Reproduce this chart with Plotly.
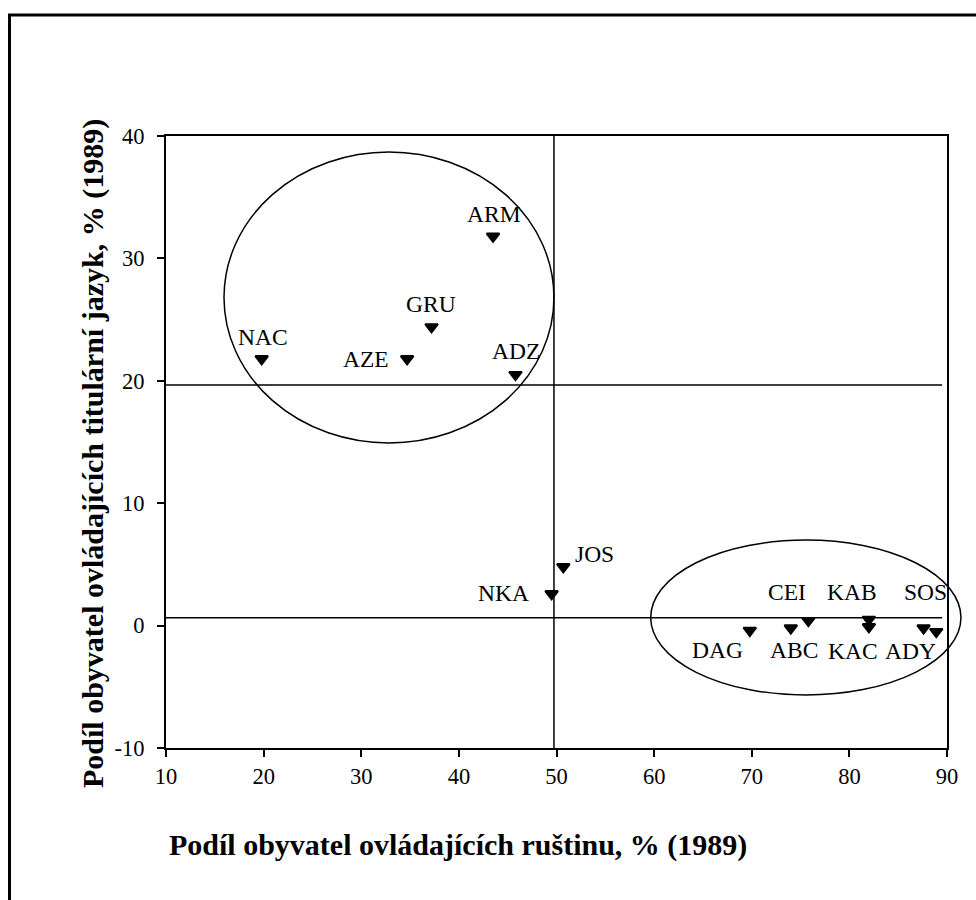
import plotly.graph_objects as go

# ---------------- data ----------------
codes = ["NAC", "AZE", "GRU", "ARM", "ADZ", "NKA", "JOS",
         "DAG", "ABC", "CEI", "KAB", "KAC", "SOS", "ADY"]
russian_pct = [19.8, 34.7, 37.2, 43.5, 45.8, 49.5, 50.7,
               69.8, 74.0, 75.8, 82.0, 82.0, 87.6, 88.9]
titular_pct = [21.8, 21.8, 24.4, 31.8, 20.5, 2.6, 4.8,
               -0.4, -0.2, 0.4, 0.5, -0.1, -0.2, -0.5]

x_ticks = [10, 20, 30, 40, 50, 60, 70, 80, 90]
x_tick_labels = ["10", "20", "30", "40", "50", "60", "70", "80", "90"]
y_ticks = [-10, 0, 10, 20, 30, 40]
y_tick_labels = ["-10", "0", "10", "20", "30", "40"]

x_title = "Podíl obyvatel ovládajících ruštinu, % (1989)"
y_title = "Podíl obyvatel ovládajících titulární jazyk, % (1989)"

# dividing lines (data units)
split_x = 49.74
upper_y = 19.66
lower_y = 0.65
line_end_x = 89.5

# cluster ellipses: (x0, x1, y0, y1) in data units
clusters_x0 = [15.94, 59.65]
clusters_x1 = [49.74, 91.43]
clusters_y0 = [14.92, -5.67]
clusters_y1 = [38.69, 6.99]

# ---------------- layout / style ----------------
x_range = [10, 90]
y_range = [-10, 40]
W, H = 976, 900
ML, MR, MT, MB = 166, 29, 136, 152
PW, PH = W - ML - MR, H - MT - MB

FONT = "Liberation Serif"

# label offsets in pixels (xshift, yshift)
label_offsets = {
    "NAC": (1, 22), "AZE": (-41, 0), "GRU": (-1, 23), "ARM": (1, 22),
    "ADZ": (0, 24), "NKA": (-48, 1), "JOS": (31, 13), "DAG": (-32, -19),
    "ABC": (3, -22), "CEI": (-21, 29), "KAB": (-17, 27), "KAC": (-16, -24),
    "SOS": (2, 36), "ADY": (-26, -19),
}


def xd(v):
    return (v - x_range[0]) / (x_range[1] - x_range[0])


def yd(v):
    return (v - y_range[0]) / (y_range[1] - y_range[0])


def px_x(p):
    return (p - ML) / PW


def px_y(p):
    return (H - MB - p) / PH


fig = go.Figure()
fig.add_trace(go.Scatter(
    x=russian_pct, y=titular_pct, mode="markers",
    marker=dict(symbol="triangle-down", size=11, color="black",
                line=dict(color="black", width=2)),
    cliponaxis=False, hoverinfo="skip", showlegend=False,
))

shapes = []
# dividing lines
shapes.append(dict(type="line", xref="x", yref="y", x0=split_x, x1=split_x,
                   y0=y_range[0], y1=y_range[1], line=dict(color="black", width=1.5)))
shapes.append(dict(type="line", xref="x", yref="y", x0=x_range[0], x1=line_end_x,
                   y0=upper_y, y1=upper_y, line=dict(color="black", width=1.5)))
shapes.append(dict(type="line", xref="x", yref="y", x0=x_range[0], x1=line_end_x,
                   y0=lower_y, y1=lower_y, line=dict(color="black", width=1.5)))
# ellipses
for a, b, c, d in zip(clusters_x0, clusters_x1, clusters_y0, clusters_y1):
    shapes.append(dict(type="circle", xref="x domain", yref="y domain",
                       x0=xd(a), x1=xd(b), y0=yd(c), y1=yd(d),
                       line=dict(color="black", width=1.5)))
# outer frame (left and top edges)
shapes.append(dict(type="line", xref="paper", yref="paper",
                   x0=px_x(9.5), x1=px_x(9.5), y0=px_y(15), y1=px_y(910),
                   line=dict(color="black", width=3)))
shapes.append(dict(type="line", xref="paper", yref="paper",
                   x0=px_x(8), x1=px_x(990), y0=px_y(15), y1=px_y(15),
                   line=dict(color="black", width=3)))

annotations = []
for code, xv, yv in zip(codes, russian_pct, titular_pct):
    dx, dy = label_offsets[code]
    annotations.append(dict(x=xv, y=yv, xref="x", yref="y", text=code,
                            showarrow=False, xshift=dx, yshift=dy,
                            xanchor="center", yanchor="middle",
                            font=dict(family=FONT, size=23.5, color="black")))
annotations.append(dict(x=px_x(458), y=px_y(845), xref="paper", yref="paper",
                        text=x_title, showarrow=False, xanchor="center", yanchor="middle",
                        font=dict(family=FONT, size=30, color="black", weight="bold")))
annotations.append(dict(x=px_x(93), y=px_y(454), xref="paper", yref="paper",
                        text=y_title, showarrow=False, textangle=-90,
                        xanchor="center", yanchor="middle",
                        font=dict(family=FONT, size=30, color="black", weight="bold")))

axis_common = dict(
    showgrid=False, zeroline=False, showline=True, linecolor="black", linewidth=2,
    mirror=True, ticks="outside", ticklen=7, tickwidth=1.5, tickcolor="black",
    tickfont=dict(family=FONT, size=22.5, color="black"),
)

fig.update_layout(
    width=W, height=H,
    margin=dict(l=ML, r=MR, t=MT, b=MB, pad=0),
    paper_bgcolor="white", plot_bgcolor="white",
    xaxis=dict(range=x_range, tickmode="array", tickvals=x_ticks, ticktext=x_tick_labels,
               **axis_common),
    yaxis=dict(range=y_range, tickmode="array", tickvals=y_ticks, ticktext=y_tick_labels,
               ticklabelstandoff=8, **axis_common),
    shapes=shapes,
    annotations=annotations,
    showlegend=False,
)

fig.write_html("out.html", config={"displayModeBar": False},
               post_script="document.body.style.margin='0';")
